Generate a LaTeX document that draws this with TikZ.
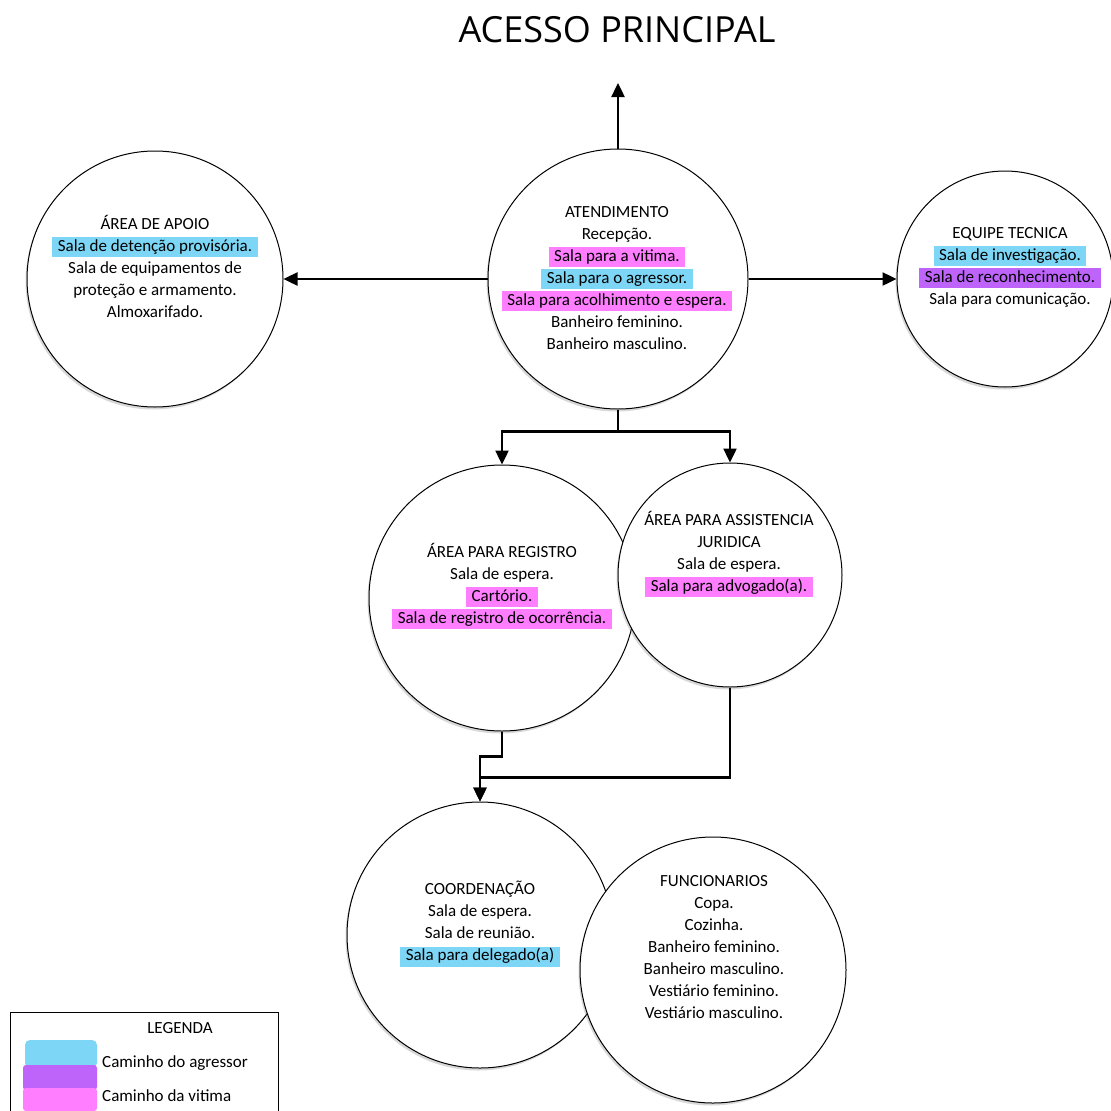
\documentclass[tikz,border=0pt]{standalone}
\usepackage{fontspec}
\setmainfont{Carlito}
\newfontfamily\titlefont{Open Sans}
\usetikzlibrary{shapes,arrows.meta,shadows}
\definecolor{agressor}{RGB}{125,214,245}
\definecolor{vitima}{RGB}{255,125,255}
\definecolor{ambos}{RGB}{190,100,250}
\newcommand{\marca}[2]{{\setlength{\fboxsep}{1.5pt}\colorbox{#1}{\hspace{4pt}\rule[-4.5pt]{0pt}{17pt}#2\hspace{4pt}}}}
\tikzset{
  sala/.style={circle,draw,line width=1pt,fill=white,inner sep=0pt,
    drop shadow={opacity=0.3,shadow xshift=-1.5pt,shadow yshift=-2.5pt}},
  lista/.style={align=center,inner sep=0pt,font=\fontsize{17}{22}\selectfont},
  liga/.style={line width=2.4pt},
  fluxo/.style={line width=2.4pt,-{Triangle[length=14pt,width=13pt]}}
}

\begin{document}
\begin{tikzpicture}[x=1pt,y=-1pt]
\path[use as bounding box,fill=white] (0,0) rectangle (1111,1111);
\node[font=\titlefont\fontsize{36}{40}\selectfont] (titulo) at (617,30) {ACESSO PRINCIPAL};
\coordinate (acesso) at (618,83);

% salas
\node[sala,minimum size=256pt] (apoio) at (155,279) {};
\node[lista] (apoio-t) at (155,266) {ÁREA DE APOIO\\ \marca{agressor}{Sala de detenção provisória.}\\ Sala de equipamentos de\\ proteção e armamento.\\ Almoxarifado.};
\node[sala,minimum size=260pt] (atend) at (618,279) {};
\node[lista] (atend-t) at (617,278) {ATENDIMENTO\\ Recepção.\\ \marca{vitima}{Sala para a vitima.}\\ \marca{agressor}{Sala para o agressor.}\\ \marca{vitima}{Sala para acolhimento e espera.}\\ Banheiro feminino.\\ Banheiro masculino.};
\node[sala,minimum size=216pt] (equipe) at (1005,279) {};
\node[lista] (equipe-t) at (1010,267) {EQUIPE TECNICA\\ \marca{agressor}{Sala de investigação.}\\ \marca{ambos}{Sala de reconhecimento.}\\ Sala para comunicação.};
\node[sala,minimum size=266pt] (registro) at (502,598) {};
\node[lista] (registro-t) at (502,586) {ÁREA PARA REGISTRO\\ Sala de espera.\\ \marca{vitima}{Cartório.}\\ \marca{vitima}{Sala de registro de ocorrência.}};
\node[sala,minimum size=224pt] (juridica) at (730,575) {};
\node[lista] (juridica-t) at (729,554) {ÁREA PARA ASSISTENCIA\\ JURIDICA\\ Sala de espera.\\ \marca{vitima}{Sala para advogado(a).}};
\node[sala,minimum size=266pt] (coord) at (480,935) {};
\node[lista] (coord-t) at (480,924) {COORDENAÇÃO\\ Sala de espera.\\ Sala de reunião.\\ \marca{agressor}{Sala para delegado(a)}};
\node[sala,minimum size=266pt] (func) at (713,970) {};
\node[lista] (func-t) at (714,947) {FUNCIONARIOS\\ Copa.\\ Cozinha.\\ Banheiro feminino.\\ Banheiro masculino.\\ Vestiário feminino.\\ Vestiário masculino.};

% ligacoes
\draw[fluxo] (atend.north) -- (acesso);
\draw[fluxo] (atend.west) -- (apoio.east);
\draw[fluxo] (atend.east) -- (equipe.west);
\draw[liga] (atend.south) -- ++(0,22) coordinate (ramo);
\draw[fluxo] (ramo) -| (registro.north);
\draw[fluxo] (ramo) -| (juridica.north);
\draw[fluxo] (registro.south) -- ++(0,25) -| (coord.north);
\draw[fluxo] (juridica.south) -- ++(0,90) -| (coord.north);

% legenda
\draw[line width=1pt] (10,1111) |- (278,1012) -- (278,1111);
\node[lista] (legenda) at (180,1028) {LEGENDA};
\fill[agressor,rounded corners=5pt] (25,1040) rectangle (97,1068);
\fill[ambos,rounded corners=3pt] (23,1065) rectangle (97,1090);
\fill[vitima,rounded corners=3pt] (23,1088) rectangle (97,1111);
\node[lista,anchor=west] (leg-agr) at (102,1063) {Caminho do agressor};
\node[lista,anchor=west] (leg-vit) at (102,1096) {Caminho da vitima};
\end{tikzpicture}
\end{document}
